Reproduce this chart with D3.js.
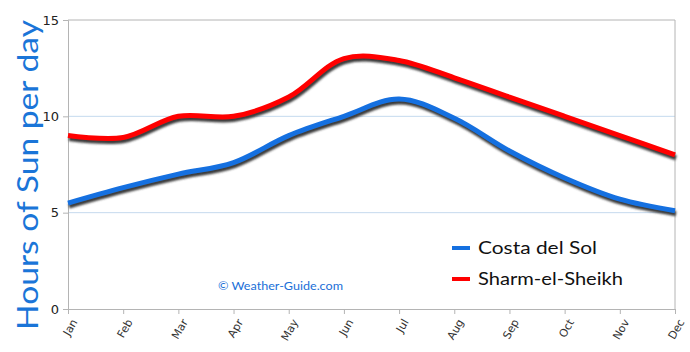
<!DOCTYPE html>
<html>
<head>
<meta charset="utf-8">
<script src="https://cdn.jsdelivr.net/npm/d3@7"></script>
<style>
  body { margin: 0; background: #fff; }
  text { font-family: "DejaVu Sans", sans-serif; }
</style>
</head>
<body>
<div id="chart"></div>
<script>
const months = ["Jan", "Feb", "Mar", "Apr", "May", "Jun", "Jul", "Aug", "Sep", "Oct", "Nov", "Dec"];
const costaDelSol = [5.5, 6.3, 7, 7.6, 9, 10, 10.9, 9.9, 8.2, 6.8, 5.7, 5.1];
const sharmElSheikh = [9, 8.9, 10, 10, 11, 13, 12.9, 12, 11, 10, 9, 8];
const yTicks = [0, 5, 10, 15];
const seriesNames = ["Costa del Sol", "Sharm-el-Sheikh"];
const seriesColors = ["#1570e0", "#ff0000"];

const width = 690, height = 352;
const margin = { top: 20, right: 15, bottom: 43, left: 68 };
const w = width - margin.left - margin.right;
const h = height - margin.top - margin.bottom;

const root = d3.select("#chart").append("svg")
  .attr("width", width)
  .attr("height", height);

const defs = root.append("defs");
defs.append("filter").attr("id", "blur")
  .attr("x", "-5%").attr("y", "-20%").attr("width", "110%").attr("height", "140%")
  .append("feGaussianBlur").attr("stdDeviation", 1.2);

const svg = root.append("g")
  .attr("transform", `translate(${margin.left},${margin.top})`);

const x = d3.scalePoint().domain(months).range([0, w]);
const y = d3.scaleLinear().domain([0, 15]).range([h, 0]);

// grid
svg.selectAll(".grid")
  .data(yTicks.filter(d => d > 0 && d < 15))
  .join("line")
  .attr("x1", 0).attr("x2", w)
  .attr("y1", d => y(d)).attr("y2", d => y(d))
  .attr("stroke", "#c5daee");

// frame (top + right)
svg.append("path")
  .attr("d", `M0,0H${w}V${h}`)
  .attr("fill", "none")
  .attr("stroke", "#b4b4b4");

const yAxis = svg.append("g")
  .call(d3.axisLeft(y).tickValues(yTicks).tickSize(5).tickPadding(4));
yAxis.select(".domain").attr("stroke", "#b4b4b4");
yAxis.selectAll(".tick line").attr("stroke", "#b4b4b4");
yAxis.selectAll(".tick text").attr("font-size", 13).attr("fill", "#222");

const xAxis = svg.append("g")
  .attr("transform", `translate(0,${h})`)
  .call(d3.axisBottom(x).tickSize(5).tickPadding(3));
xAxis.select(".domain").attr("stroke", "#b4b4b4");
xAxis.selectAll(".tick line").attr("stroke", "#b4b4b4");
xAxis.selectAll(".tick text")
  .attr("font-size", 11)
  .attr("fill", "#333")
  .attr("text-anchor", "end")
  .attr("x", 0)
  .attr("y", 0)
  .attr("dy", "0.35em")
  .attr("transform", "translate(6,11) rotate(-60)");

const line = d3.line()
  .x((d, i) => x(months[i]))
  .y(d => y(d))
  .curve(d3.curveCatmullRom.alpha(0.5));

const allSeries = [costaDelSol, sharmElSheikh];

allSeries.forEach((s, i) => {
  svg.append("path")
    .datum(s)
    .attr("d", line)
    .attr("transform", "translate(1,3)")
    .attr("fill", "none")
    .attr("stroke", "#3a3a3a")
    .attr("stroke-width", 5)
    .attr("filter", "url(#blur)");
  svg.append("path")
    .datum(s)
    .attr("d", line)
    .attr("fill", "none")
    .attr("stroke", seriesColors[i])
    .attr("stroke-width", 5);
});

// legend
const legendWidths = [119, 145];
const legend = root.append("g").attr("transform", "translate(452,248)");
seriesNames.forEach((name, i) => {
  const g = legend.append("g").attr("transform", `translate(0,${i * 31})`);
  g.append("line")
    .attr("x1", 0).attr("x2", 18)
    .attr("stroke", seriesColors[i])
    .attr("stroke-width", 4);
  g.append("text")
    .attr("x", 26)
    .attr("dy", "0.35em")
    .attr("font-size", 18)
    .attr("fill", "#111")
    .attr("textLength", legendWidths[i])
    .attr("lengthAdjust", "spacingAndGlyphs")
    .style("font-family", "'Comic Sans MS', Lato, sans-serif")
    .text(name);
});

// watermark
root.append("text")
  .attr("x", 218)
  .attr("y", 290)
  .attr("font-size", 12)
  .attr("fill", "#1a6fd8")
  .attr("textLength", 125)
  .attr("lengthAdjust", "spacingAndGlyphs")
  .style("font-family", "'Comic Sans MS', Lato, sans-serif")
  .text("©  Weather-Guide.com");

// y title
root.append("text")
  .attr("transform", `translate(38,${(20 + 330) / 2}) rotate(-90)`)
  .attr("text-anchor", "middle")
  .attr("font-size", 28)
  .attr("fill", "#1a75d8")
  .attr("textLength", 310)
  .attr("lengthAdjust", "spacingAndGlyphs")
  .style("font-family", "'Comic Sans MS', Lato, sans-serif")
  .text("Hours of Sun per day");
</script>
</body>
</html>
